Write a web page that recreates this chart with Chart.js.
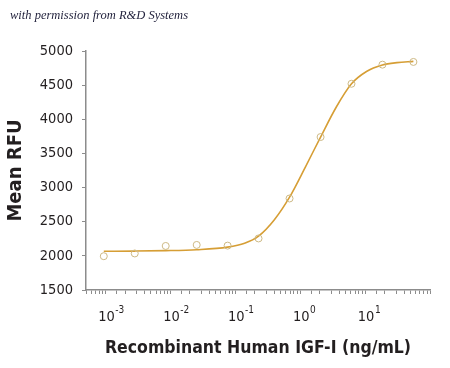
<!DOCTYPE html>
<html>
<head>
<meta charset="utf-8">
<script src="https://cdn.jsdelivr.net/npm/chart.js@4.4.1/dist/chart.umd.min.js"></script>
<style>
    body { margin: 0; background: #fff; }
    #wrap { position: relative; width: 450px; height: 368px; }
    #credit {
        position: absolute; left: 10px; top: 8px;
        font: italic 12.5px "Liberation Serif", serif;
        color: #1f1f3a;
    }
</style>
</head>
<body>
<div id="wrap">
    <canvas id="doseChart" width="450" height="368"></canvas>
    <div id="credit">with permission from R&amp;D Systems</div>
</div>
<script>
// measured points (ng/mL, mean RFU)
const concentrations = [0.00094, 0.00282, 0.00846, 0.0254, 0.0761, 0.228, 0.685, 2.06, 6.17, 18.5, 55.5];
const meanRfu = [1995, 2035, 2145, 2160, 2150, 2255, 2840, 3740, 4520, 4800, 4840];

// fitted curve
const fitX = [0.00094, 0.0028, 0.0085, 0.0254, 0.076, 0.139, 0.228, 0.40, 0.685, 1.2, 2.06, 3.6, 6.17, 10.5, 18.5, 31, 55.5];
const fitY = [2068, 2070, 2076, 2090, 2128, 2185, 2290, 2530, 2860, 3300, 3740, 4180, 4520, 4700, 4795, 4830, 4848];

const decadeTicks = [0.001, 0.01, 0.1, 1, 10];
const decadeExponents = ['-3', '-2', '-1', '0', '1'];

const FONT = '"DejaVu Sans Condensed", "Liberation Sans", sans-serif';
const AXIS_GREY = '#8c8c8c';
const INK = '#231f20';

const decadeLabels = {
    id: 'decadeLabels',
    afterDraw: (chart) => {
        const ctx = chart.ctx;
        const xs = chart.scales.x;
        ctx.save();
        ctx.fillStyle = INK;
        ctx.textBaseline = 'alphabetic';
        ctx.textAlign = 'left';
        decadeTicks.forEach((value, i) => {
            const px = xs.getPixelForValue(value);
            ctx.font = `14.5px ${FONT}`;
            const w = ctx.measureText('10').width;
            const x0 = px + 1 - w / 2;
            ctx.fillText('10', x0, 321);
            ctx.font = `10px ${FONT}`;
            ctx.fillText(decadeExponents[i], x0 + w + 0.5, 313);
        });
        ctx.restore();
    }
};

const canvas = document.getElementById('doseChart');

new Chart(canvas.getContext('2d'), {
    type: 'scatter',
    data: {
        datasets: [
            {
                label: 'Fit',
                data: fitX.map((x, i) => ({ x, y: fitY[i] })),
                showLine: true,
                borderColor: '#d69e35',
                borderWidth: 1.6,
                pointRadius: 0,
                cubicInterpolationMode: 'monotone',
                order: 2
            },
            {
                label: 'Mean RFU',
                data: concentrations.map((x, i) => ({ x, y: meanRfu[i] })),
                showLine: false,
                pointRadius: 3.5,
                pointBorderWidth: 1,
                pointBorderColor: '#cdb985',
                pointBackgroundColor: 'rgba(255,255,255,0)',
                order: 1
            }
        ]
    },
    options: {
        responsive: false,
        animation: false,
        layout: { padding: { top: 51, right: 20, left: 0, bottom: 0 } },
        plugins: {
            legend: { display: false },
            tooltip: { enabled: false }
        },
        scales: {
            x: {
                type: 'logarithmic',
                min: 0.0005,
                max: 100,
                ticks: { display: false },
                grid: { drawOnChartArea: false, drawTicks: true, tickLength: 4, color: AXIS_GREY, lineWidth: 1 },
                border: { color: AXIS_GREY, width: 1.5 },
                title: {
                    display: true,
                    text: 'Recombinant Human IGF-I (ng/mL)',
                    color: INK,
                    font: { family: FONT, size: 17.5, weight: 'bold' },
                    padding: { top: 0, bottom: 9 }
                },
                afterFit: (scale) => { scale.height = 78; }
            },
            y: {
                min: 1500,
                max: 5000,
                ticks: {
                    stepSize: 500,
                    padding: 9,
                    color: INK,
                    font: { family: FONT, size: 14.5 },
                    callback: (value) => String(value)
                },
                grid: { drawOnChartArea: false, drawTicks: true, tickLength: 4, color: AXIS_GREY, lineWidth: 1 },
                border: { color: AXIS_GREY, width: 1.5 },
                title: {
                    display: true,
                    text: 'Mean RFU',
                    color: INK,
                    font: { family: FONT, size: 20, weight: 'bold' },
                    padding: { top: 4, bottom: 0 }
                },
                afterFit: (scale) => { scale.width = 86; }
            }
        }
    },
    plugins: [decadeLabels]
});
</script>
</body>
</html>
